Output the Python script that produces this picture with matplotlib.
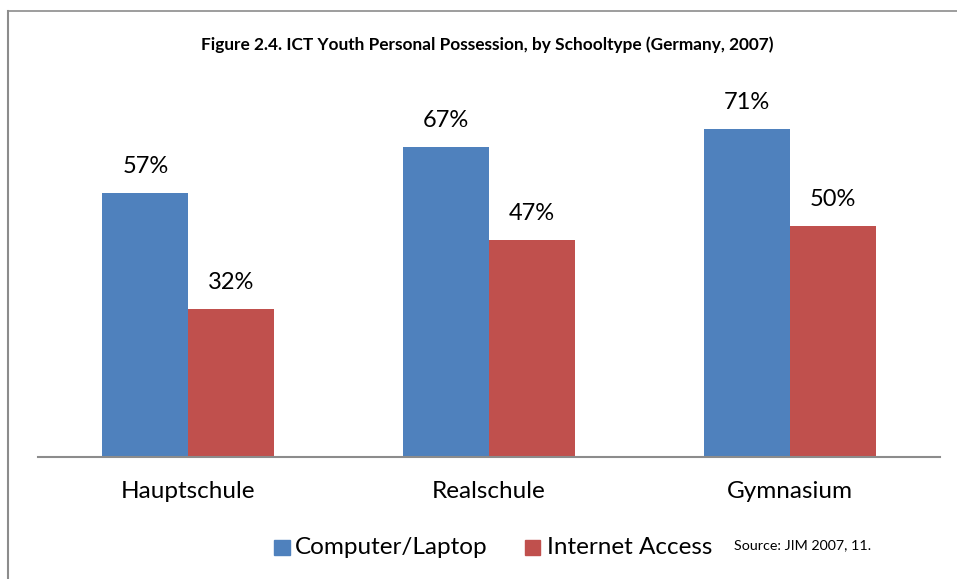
import matplotlib
matplotlib.use("Agg")
import matplotlib.pyplot as plt
from matplotlib.lines import Line2D
from matplotlib.patches import Rectangle
import numpy as np

categories = ["Hauptschule", "Realschule", "Gymnasium"]
computer = [57, 67, 71]
internet = [32, 47, 50]
series_names = ["Computer/Laptop", "Internet Access"]
title = "Figure 2.4. ICT Youth Personal Possession, by Schooltype (Germany, 2007)"
source = "Source: JIM 2007, 11."

W, H = 957, 579
plt.rcParams['font.family'] = ['Lato', 'DejaVu Sans']
fig = plt.figure(figsize=(W/100, H/100), dpi=100)
fig.patch.set_facecolor("white")

def fx(px):
    return px / W
def fy(py):
    return 1 - py / H

ax = fig.add_axes([fx(38), fy(457), fx(940) - fx(38), (457 - 87) / H])
x = np.arange(len(categories))
bw = 0.286
blue = "#4F81BD"
red = "#C0504D"
b1 = ax.bar(x - bw/2, computer, bw, color=blue, linewidth=0)
b2 = ax.bar(x + bw/2, internet, bw, color=red, linewidth=0)
ax.set_xlim(-0.5, 2.5)
ax.set_ylim(0, 80)
for s in ["top", "right", "left"]:
    ax.spines[s].set_visible(False)
ax.spines["bottom"].set_color("#8c8c8c")
ax.spines["bottom"].set_linewidth(1.5)
ax.set_yticks([])
ax.set_xticks(x)
ax.set_xticklabels(categories, fontsize=17.5)
ax.tick_params(axis="x", length=0, pad=17)

for bars, vals in ((b1, computer), (b2, internet)):
    for r, v in zip(bars, vals):
        ax.annotate(f"{v}%", (r.get_x() + r.get_width()/2, v), xytext=(0, 11.5),
                    textcoords="offset points", ha="center", va="bottom", fontsize=17)

fig.text(fx(487), fy(45), title, ha="center", va="center", fontsize=12.4, fontweight="bold")

# legend (manual)
fig.patches.append(Rectangle((fx(274), fy(555)), 16/W, 15/H, transform=fig.transFigure, color=blue))
fig.text(fx(295), fy(547), series_names[0], ha="left", va="center", fontsize=17.5)
fig.patches.append(Rectangle((fx(525), fy(555)), 15/W, 15/H, transform=fig.transFigure, color=red))
fig.text(fx(547), fy(547), series_names[1], ha="left", va="center", fontsize=17.5)
fig.text(fx(734), fy(545), source, ha="left", va="center", fontsize=10.3)

# outer frame lines
fig.lines.append(Line2D([fx(8), fx(8)], [fy(11), 0], transform=fig.transFigure, color="#8c8c8c", lw=1.5))
fig.lines.append(Line2D([fx(8), 1], [fy(11), fy(11)], transform=fig.transFigure, color="#8c8c8c", lw=1.2))

fig.savefig("out.png", dpi=100)
